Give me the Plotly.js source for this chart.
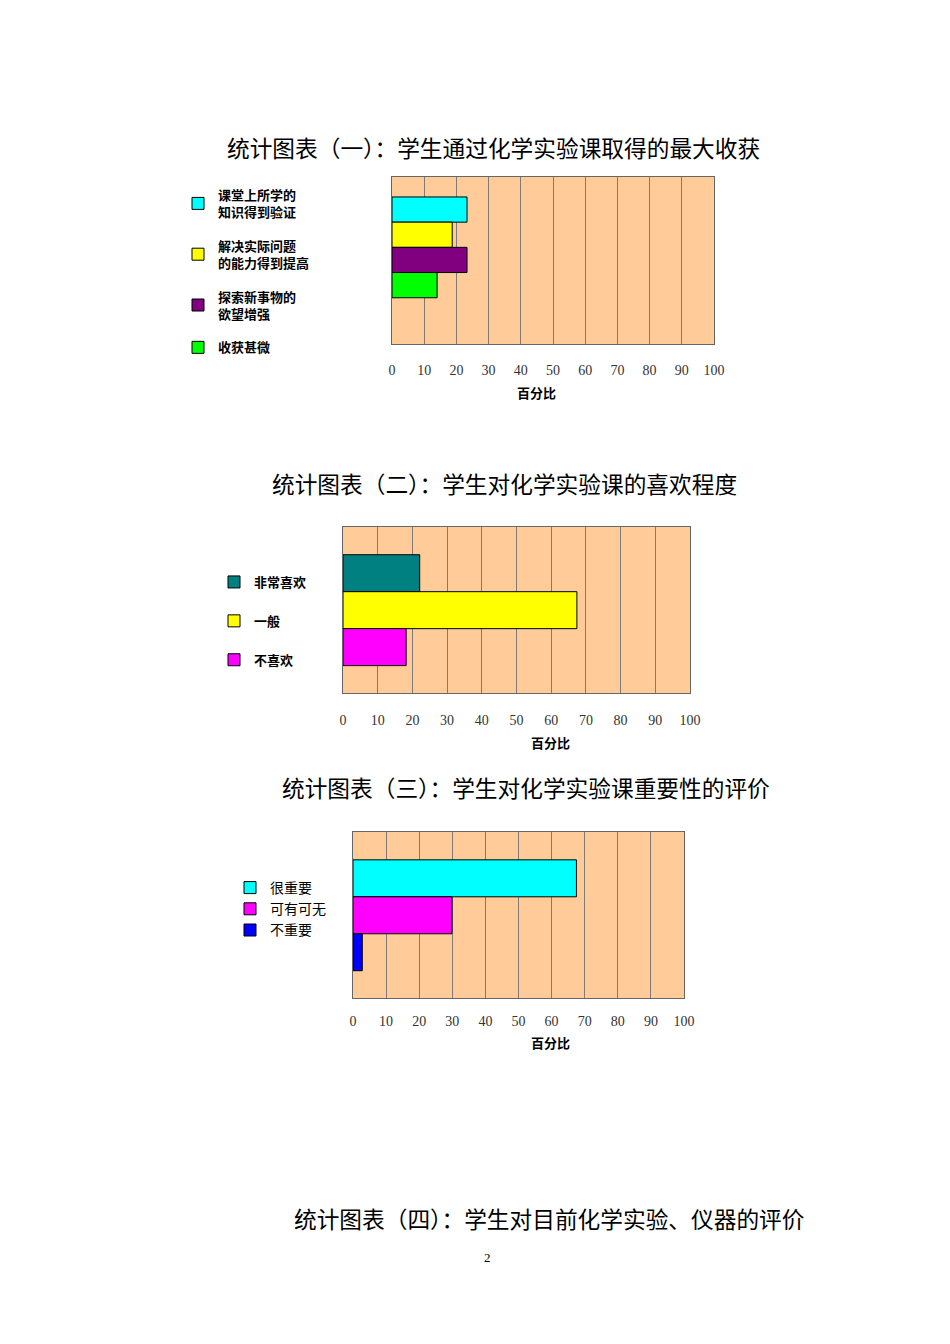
<!DOCTYPE html>
<html>
<head>
<meta charset="utf-8">
<script src="https://cdn.plot.ly/plotly-3.0.1.min.js"></script>
<style>
  html, body { margin: 0; padding: 0; background: #fff; }
  #page { width: 950px; height: 1344px; }
</style>
</head>
<body>
<div id="page"></div>
<script>
/* Page of survey charts: three horizontal bar charts (percent of students) plus the
   heading of a fourth one. One figure, three subplots, one legend per subplot. */
(function () {
  "use strict";

  var percentTicks = [0, 10, 20, 30, 40, 50, 60, 70, 80, 90, 100];

  // chart 1 — biggest gain from chemistry lab lessons
  var gainNames = ["课堂上所学的<br>知识得到验证", "解决实际问题<br>的能力得到提高", "探索新事物的<br>欲望增强", "收获甚微"];
  var gainValues = [23.3, 18.7, 23.3, 14.0];
  var gainColors = ["#00FFFF", "#FFFF00", "#800080", "#00FF00"];

  // chart 2 — how much students like lab lessons
  var likeNames = ["非常喜欢", "一般", "不喜欢"];
  var likeValues = [22.1, 67.4, 18.2];
  var likeColors = ["#008080", "#FFFF00", "#FF00FF"];

  // chart 3 — how important lab lessons are
  var importanceNames = ["很重要", "可有可无", "不重要"];
  var importanceValues = [67.5, 29.9, 2.8];
  var importanceColors = ["#00FFFF", "#FF00FF", "#0000FF"];

  var titles = [
    "统计图表（一）：学生通过化学实验课取得的最大收获",
    "统计图表（二）：学生对化学实验课的喜欢程度",
    "统计图表（三）：学生对化学实验课重要性的评价",
    "统计图表（四）：学生对目前化学实验、仪器的评价"
  ];

  var W = 950, H = 1344;
  var cjk = "Noto Sans CJK SC, sans-serif";
  var serif = "Liberation Serif, DejaVu Serif, serif";

  function px(x) { return x / W; }
  function py(y) { return 1 - y / H; }

  function barTraces(names, values, colors, xa, ya, legendId) {
    return names.map(function (n, i) {
      return {
        type: "bar", orientation: "h",
        name: n, x: [values[i]], y: ["百分比"],
        xaxis: xa, yaxis: ya, legend: legendId, legendgroup: legendId + "-" + i,
        marker: { color: colors[i], line: { color: "#000", width: 1 } },
        hoverinfo: "skip"
      };
    });
  }

  function xAxis(left, right, anchor, standoff) {
    return {
      domain: [px(left), px(right)], anchor: anchor, range: [0, 100],
      tickmode: "array", tickvals: percentTicks, ticktext: percentTicks.map(String),
      ticks: "", ticklabelstandoff: standoff,
      tickfont: { family: serif, size: 14, color: "#333" },
      showgrid: true, gridcolor: "#7f7a75", gridwidth: 1, zeroline: false,
      showline: true, linecolor: "#666", linewidth: 1, mirror: true, fixedrange: true
    };
  }

  function yAxis(top, bottom, anchor, range) {
    return {
      domain: [py(bottom), py(top)], anchor: anchor, type: "category", range: range,
      showticklabels: false, ticks: "", showgrid: false, zeroline: false,
      showline: true, linecolor: "#666", linewidth: 1, mirror: true, fixedrange: true
    };
  }

  function legendBox(left, top, size, bold, gap) {
    return {
      x: px(left), y: py(top), xanchor: "left", yanchor: "top",
      bgcolor: "rgba(0,0,0,0)", borderwidth: 0, traceorder: "grouped",
      tracegroupgap: gap, itemclick: false, itemdoubleclick: false,
      font: { family: cjk, size: size, color: "#000", weight: bold ? "bold" : "normal" }
    };
  }

  var data = []
    .concat(barTraces(gainNames, gainValues, gainColors, "x", "y", "legend"))
    .concat(barTraces(likeNames, likeValues, likeColors, "x2", "y2", "legend2"))
    .concat(barTraces(importanceNames, importanceValues, importanceColors, "x3", "y3", "legend3"));

  function note(text, x, y, font) {
    return { text: text, x: px(x), y: py(y), xref: "paper", yref: "paper",
             xanchor: "center", yanchor: "middle", showarrow: false, font: font };
  }
  var titleFont = { family: cjk, size: 22.7, color: "#000" };
  var axisFont = { family: cjk, size: 13, color: "#000", weight: "bold" };

  var layout = {
    width: W, height: H, margin: { t: 0, r: 0, b: 0, l: 0 },
    paper_bgcolor: "#fff", plot_bgcolor: "#FFCC99",
    barmode: "group", bargap: 0, bargroupgap: 0, showlegend: true,
    xaxis: xAxis(392, 714, "y", 13),
    yaxis: yAxis(177, 344, "x", [0.959, -0.698]),
    xaxis2: xAxis(343, 690, "y2", 14),
    yaxis2: yAxis(527, 693, "x2", [0.747, -0.750]),
    xaxis3: xAxis(353, 684, "y3", 10),
    yaxis3: yAxis(832, 998, "x3", [0.746, -0.751]),
    legend: legendBox(178, 180, 13, true, 14),
    legend2: legendBox(214, 567, 13, true, 19),
    legend3: legendBox(230, 872, 14, false, 0),
    annotations: [
      note(titles[0], 493, 147, titleFont),
      note(titles[1], 504, 483, titleFont),
      note(titles[2], 526, 787, titleFont),
      note(titles[3], 549, 1218, titleFont),
      note("百分比", 536, 392, axisFont),
      note("百分比", 550, 742, axisFont),
      note("百分比", 550, 1042, axisFont),
      note("2", 487, 1257, { family: serif, size: 13, color: "#000" })
    ]
  };

  Plotly.newPlot("page", data, layout, { displayModeBar: false, staticPlot: true });
})();
</script>
</body>
</html>
